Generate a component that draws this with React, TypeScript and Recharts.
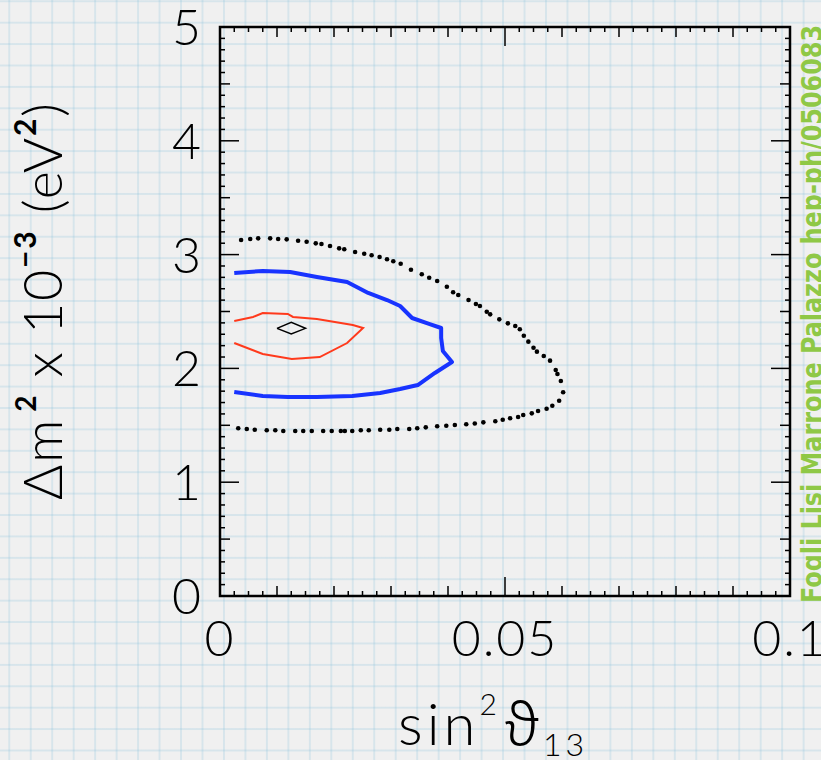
import {
  ComposedChart,
  XAxis,
  YAxis,
  Line,
  Scatter,
  ReferenceArea,
  Customized,
} from "recharts";

// plot box, in px
const W = 821;
const H = 760;
const LEFT = 220;
const RIGHT = 790;
const TOP = 27;
const BOTTOM = 596;

const FONT = "Lato, 'Open Sans', sans-serif";

// axis ticks: minor every 0.0025 on x, every 0.1 on y
const xTicks = Array.from({ length: 41 }, (_, i) => i * 0.0025);
const yTicks = Array.from({ length: 51 }, (_, i) => i / 10);
const xLabelValues = [0, 0.05, 0.1];
const xLabels = ["0", "0.05", "0.1"];
const yLabelValues = [0, 1, 2, 3, 4, 5];
const yLabels = ["0", "1", "2", "3", "4", "5"];

// best fit point
const bestFit = [
  [0.01, 2.352],
  [0.0125, 2.405],
  [0.015, 2.352],
  [0.0125, 2.302],
  [0.01, 2.352],
];

// inner contour (red)
const contourRed = [
  [0.0025, 2.417],
  [0.0058, 2.452],
  [0.0075, 2.487],
  [0.0119, 2.478],
  [0.0128, 2.452],
  [0.017, 2.434],
  [0.0233, 2.381],
  [0.0251, 2.355],
  [0.0223, 2.223],
  [0.0175, 2.1],
  [0.0126, 2.083],
  [0.0075, 2.127],
  [0.0025, 2.223],
];

// middle contour (blue)
const contourBlue = [
  [0.0025, 2.838],
  [0.0075, 2.856],
  [0.0123, 2.847],
  [0.017, 2.803],
  [0.0223, 2.759],
  [0.026, 2.663],
  [0.0293, 2.601],
  [0.0316, 2.548],
  [0.0337, 2.443],
  [0.0368, 2.39],
  [0.0388, 2.355],
  [0.0388, 2.267],
  [0.0391, 2.153],
  [0.0407, 2.056],
  [0.0377, 1.96],
  [0.0347, 1.854],
  [0.0316, 1.819],
  [0.0281, 1.784],
  [0.0232, 1.757],
  [0.017, 1.749],
  [0.0119, 1.749],
  [0.0075, 1.757],
  [0.0025, 1.793],
];

// outer contour, drawn as dots
const contourDots = [
  [0.0037, 3.128], [0.0053, 3.137], [0.0067, 3.143], [0.0088, 3.143],
  [0.0102, 3.137], [0.0117, 3.134], [0.0137, 3.122], [0.0152, 3.113],
  [0.0168, 3.099], [0.0178, 3.093], [0.0193, 3.076], [0.0209, 3.055],
  [0.0218, 3.047], [0.0237, 3.023], [0.0253, 3.008], [0.0266, 2.994],
  [0.028, 2.979], [0.0293, 2.959], [0.0304, 2.941], [0.0317, 2.92],
  [0.0335, 2.867], [0.0354, 2.827], [0.0367, 2.797], [0.0381, 2.768],
  [0.0398, 2.718], [0.0409, 2.669], [0.0418, 2.645], [0.0436, 2.601],
  [0.0449, 2.566], [0.0456, 2.548], [0.0468, 2.498], [0.0474, 2.475],
  [0.049, 2.431], [0.0505, 2.396], [0.0518, 2.373], [0.0526, 2.344],
  [0.0533, 2.287], [0.0541, 2.235], [0.055, 2.182], [0.0556, 2.147],
  [0.0568, 2.109], [0.0579, 2.068], [0.0589, 1.986], [0.0592, 1.951],
  [0.0598, 1.889], [0.0602, 1.79], [0.0595, 1.716], [0.0583, 1.672],
  [0.0573, 1.646], [0.0558, 1.626], [0.0547, 1.605], [0.0532, 1.591],
  [0.0523, 1.573], [0.0509, 1.562], [0.0496, 1.549], [0.0483, 1.535],
  [0.0462, 1.526], [0.0447, 1.516], [0.0432, 1.509], [0.0412, 1.503],
  [0.0397, 1.496], [0.0381, 1.491], [0.0361, 1.482], [0.0346, 1.474],
  [0.0332, 1.467], [0.0311, 1.467], [0.0297, 1.461], [0.0281, 1.461],
  [0.0261, 1.456], [0.0247, 1.456], [0.0232, 1.45], [0.0219, 1.45],
  [0.0212, 1.45], [0.0196, 1.45], [0.0181, 1.45], [0.0161, 1.45],
  [0.0146, 1.45], [0.0132, 1.45], [0.0111, 1.45], [0.0097, 1.456],
  [0.0082, 1.456], [0.0061, 1.461], [0.0047, 1.467], [0.0032, 1.474],
];

const toPoints = (rows: number[][]) => rows.map(([x, y]) => ({ x, y }));

const near = (a: number, b: number) => Math.abs(a - b) < 1e-6;

function XTick(props: any) {
  const { x, payload } = props;
  const k = Math.round(payload.value / 0.0025);
  const len = k % 20 === 0 ? 19 : k % 4 === 0 ? 10 : 5;
  const li = xLabelValues.findIndex((v) => near(v, payload.value));
  return (
    <g>
      <line x1={x} x2={x} y1={BOTTOM} y2={BOTTOM - len} stroke="#000" strokeWidth={1.5} />
      <line x1={x} x2={x} y1={TOP} y2={TOP + len} stroke="#000" strokeWidth={1.5} />
      {li >= 0 && (
        <text
          x={x}
          y={BOTTOM + 60}
          textAnchor="middle"
          fontFamily={FONT}
          fontWeight={300}
          fontSize={50}
          letterSpacing={2}
          fill="#000"
        >
          {xLabels[li]}
        </text>
      )}
    </g>
  );
}

function YTick(props: any) {
  const { y, payload } = props;
  const k = Math.round(payload.value * 10);
  const len = k % 10 === 0 ? 19 : k % 5 === 0 ? 10 : 5;
  const li = yLabelValues.findIndex((v) => near(v, payload.value));
  return (
    <g>
      <line x1={LEFT} x2={LEFT + len} y1={y} y2={y} stroke="#000" strokeWidth={1.5} />
      <line x1={RIGHT} x2={RIGHT - len} y1={y} y2={y} stroke="#000" strokeWidth={1.5} />
      {li >= 0 && (
        <text
          x={201}
          y={y + 18}
          textAnchor="end"
          fontFamily={FONT}
          fontWeight={300}
          fontSize={50}
          fill="#000"
        >
          {yLabels[li]}
        </text>
      )}
    </g>
  );
}

function XTitle() {
  return (
    <text
      x={398}
      y={745}
      fontFamily={FONT}
      fontWeight={300}
      fontSize={58}
      letterSpacing={4}
      fill="#000"
    >
      sin
      <tspan dy={-30} dx={0} fontSize={30}>2</tspan>
      <tspan
        dy={30}
        dx={4}
        fontFamily="'Noto Sans', 'DejaVu Sans', sans-serif"
        fontWeight={300}
      >
        ϑ
      </tspan>
      <tspan dy={11} dx={0} fontSize={32}>13</tspan>
    </text>
  );
}

function YTitle() {
  return (
    <text
      transform="translate(62, 500) rotate(-90)"
      fontFamily={FONT}
      fontWeight={300}
      fontSize={54}
      textLength={397}
      lengthAdjust="spacing"
      fill="#000"
    >
      Δm
      <tspan dy={-26} dx={6} fontSize={28} fontWeight={700}>2</tspan>
      <tspan dy={26}> x 10</tspan>
      <tspan dy={-26} fontSize={30} fontWeight={700}>−3</tspan>
      <tspan dy={26}> (eV</tspan>
      <tspan dy={-26} fontSize={30} fontWeight={700}>2</tspan>
      <tspan dy={26}>)</tspan>
    </text>
  );
}

function Credit() {
  return (
    <text
      transform="translate(822, 603) rotate(-90)"
      fontFamily="'Liberation Sans Narrow', 'DejaVu Sans Condensed', sans-serif"
      fontWeight={700}
      fontSize={29}
      fill="#8fc846"
      textLength={578}
      lengthAdjust="spacingAndGlyphs"
    >
      Fogli Lisi Marrone Palazzo hep-ph/0506083
    </text>
  );
}

export default function App() {
  return (
    <div
      style={{
        position: "absolute",
        left: 0,
        top: 0,
        width: W,
        height: H,
        overflow: "hidden",
        backgroundColor: "#f0f0f0",
        backgroundImage:
          "linear-gradient(to right, rgba(140,195,220,0.25) 2px, transparent 2px), linear-gradient(to bottom, rgba(140,195,220,0.25) 2px, transparent 2px)",
        backgroundSize: "21.47px 21.42px",
        backgroundPosition: "8.3px 0.3px",
      }}
    >
      <ComposedChart
        width={W}
        height={H}
        margin={{ top: TOP, right: W - RIGHT, bottom: 0, left: 0 }}
      >
        <XAxis
          type="number"
          dataKey="x"
          domain={[0, 0.1]}
          ticks={xTicks}
          interval={0}
          allowDataOverflow
          height={H - BOTTOM}
          tickSize={0}
          tickMargin={0}
          tickLine={false}
          axisLine={false}
          tick={XTick}
          label={() => <XTitle />}
        />
        <YAxis
          type="number"
          dataKey="y"
          domain={[0, 5]}
          ticks={yTicks}
          interval={0}
          allowDataOverflow
          width={LEFT}
          tickSize={0}
          tickMargin={0}
          tickLine={false}
          axisLine={false}
          tick={YTick}
          label={() => <YTitle />}
        />
        <ReferenceArea
          x1={0}
          x2={0.1}
          y1={0}
          y2={5}
          fill="none"
          stroke="#000"
          strokeWidth={2.5}
          ifOverflow="visible"
        />
        <Scatter
          data={toPoints(contourDots)}
          isAnimationActive={false}
          shape={(p: any) => <circle cx={p.cx} cy={p.cy} r={2.3} fill="#000" />}
        />
        <Line
          data={toPoints(contourBlue)}
          dataKey="y"
          stroke="#1833ff"
          strokeWidth={4}
          dot={false}
          strokeLinejoin="round"
          isAnimationActive={false}
        />
        <Line
          data={toPoints(contourRed)}
          dataKey="y"
          stroke="#ff3a1c"
          strokeWidth={2}
          dot={false}
          isAnimationActive={false}
        />
        <Line
          data={toPoints(bestFit)}
          dataKey="y"
          stroke="#000"
          strokeWidth={1.5}
          dot={false}
          isAnimationActive={false}
        />
        <Customized component={Credit} />
      </ComposedChart>
    </div>
  );
}
